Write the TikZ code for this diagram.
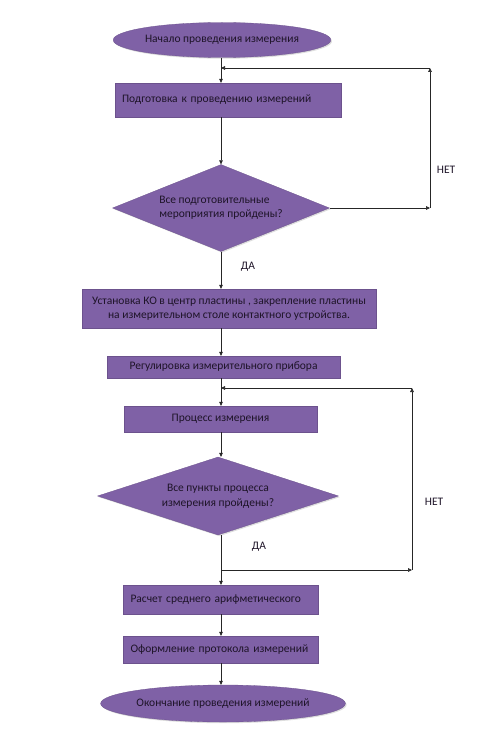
\documentclass[tikz,border=0pt]{standalone}
\usepackage{fontspec}
\setmainfont{Carlito}
\usetikzlibrary{shapes.geometric,arrows.meta,shadows}
\definecolor{boxfill}{HTML}{7F61A6}
\definecolor{txt}{HTML}{1E1428}
\begin{document}
\begin{tikzpicture}[x=1pt,y=-1pt,
  font=\fontsize{11.5}{14.5}\selectfont,
  base/.style={fill=boxfill, draw=boxfill!85!black, line width=0.3pt, text=txt, inner sep=0pt,
    drop shadow={shadow xshift=1.2pt, shadow yshift=-1.2pt, fill=black!22, opacity=0.6}},
  procbox/.style={base, rectangle},
  term/.style={base, ellipse},
  decide/.style={base, diamond, aspect=2.5},
  conn/.style={line width=0.6pt, draw=black!85},
  arr/.style={conn, -{Triangle[length=4pt,width=3.6pt]}},
  lbl/.style={text=txt, inner sep=0pt}
]
\useasboundingbox (0,0) rectangle (482,738);

\node[term, minimum width=215pt, minimum height=35pt] (start) at (222,40) {Начало проведения измерения};
\node[procbox, minimum width=226pt, minimum height=34pt, text width=212pt, align=left] (b1) at (228,100) {Подготовка к проведению измерений};
\node[decide, minimum width=217pt, minimum height=87pt, align=left] (d1) at (221,208) {Все подготовительные\\мероприятия пройдены?};
\node[procbox, minimum width=294pt, minimum height=39pt, align=center] (b2) at (229,308.5) {Установка КО в центр пластины , закрепление пластины\\на измерительном столе контактного устройства.};
\node[procbox, minimum width=233pt, minimum height=22pt] (b3) at (223.5,367) {Регулировка измерительного прибора};
\node[procbox, minimum width=193pt, minimum height=26pt] (b4) at (220.5,419) {Процесс измерения};
\node[decide, minimum width=241pt, minimum height=78pt, align=center] (d2) at (218,496) {Все пункты процесса\\измерения пройдены?};
\node[procbox, minimum width=195pt, minimum height=29pt, text width=180pt, align=left] (b5) at (220.5,599.5) {Расчет среднего арифметического};
\node[procbox, minimum width=195pt, minimum height=27pt, text width=180pt, align=left] (b6) at (220.5,649.5) {Оформление протокола измерений};
\node[term, minimum width=216pt, minimum height=37pt] (fin) at (223,703.5) {Окончание проведения измерений};

\coordinate (j1) at (221,68);
\coordinate (c1) at (430,208);
\coordinate (c2) at (430,68);
\coordinate (j2) at (221,388);
\coordinate (j3) at (221,570);
\coordinate (c3) at (412,570);
\coordinate (c4) at (412,388);

% main flow
\draw[arr] (j1 |- start.south) -- (j1 |- b1.north);
\draw[arr] (j1 |- b1.south) -- (j1 |- d1.north);
\draw[arr] (j1 |- d1.south) -- (j1 |- b2.north);
\draw[arr] (j1 |- b2.south) -- (j1 |- b3.north);
\draw[arr] (j1 |- b3.south) -- (j1 |- b4.north);
\draw[arr] (j1 |- b4.south) -- (j1 |- d2.north);
\draw[arr] (j1 |- d2.south) -- (j1 |- b5.north);
\draw[arr] (j1 |- b5.south) -- (j1 |- b6.north);
\draw[arr] (j1 |- b6.south) -- (j1 |- fin.north);

% loop 1
\draw[arr] (d1.east) -- (c1);
\draw[arr] (c1) -- (c2);
\draw[arr] (c2) -- (j1);

% loop 2
\draw[arr] (j3) -- (c3);
\draw[arr] (c3) -- (c4);
\draw[arr] (c4) -- (j2);

\node[lbl] (net1) at (446,170) {НЕТ};
\node[lbl] (da1) at (248,267) {ДА};
\node[lbl] (net2) at (434,502) {НЕТ};
\node[lbl] (da2) at (259,547) {ДА};
\end{tikzpicture}
\end{document}
